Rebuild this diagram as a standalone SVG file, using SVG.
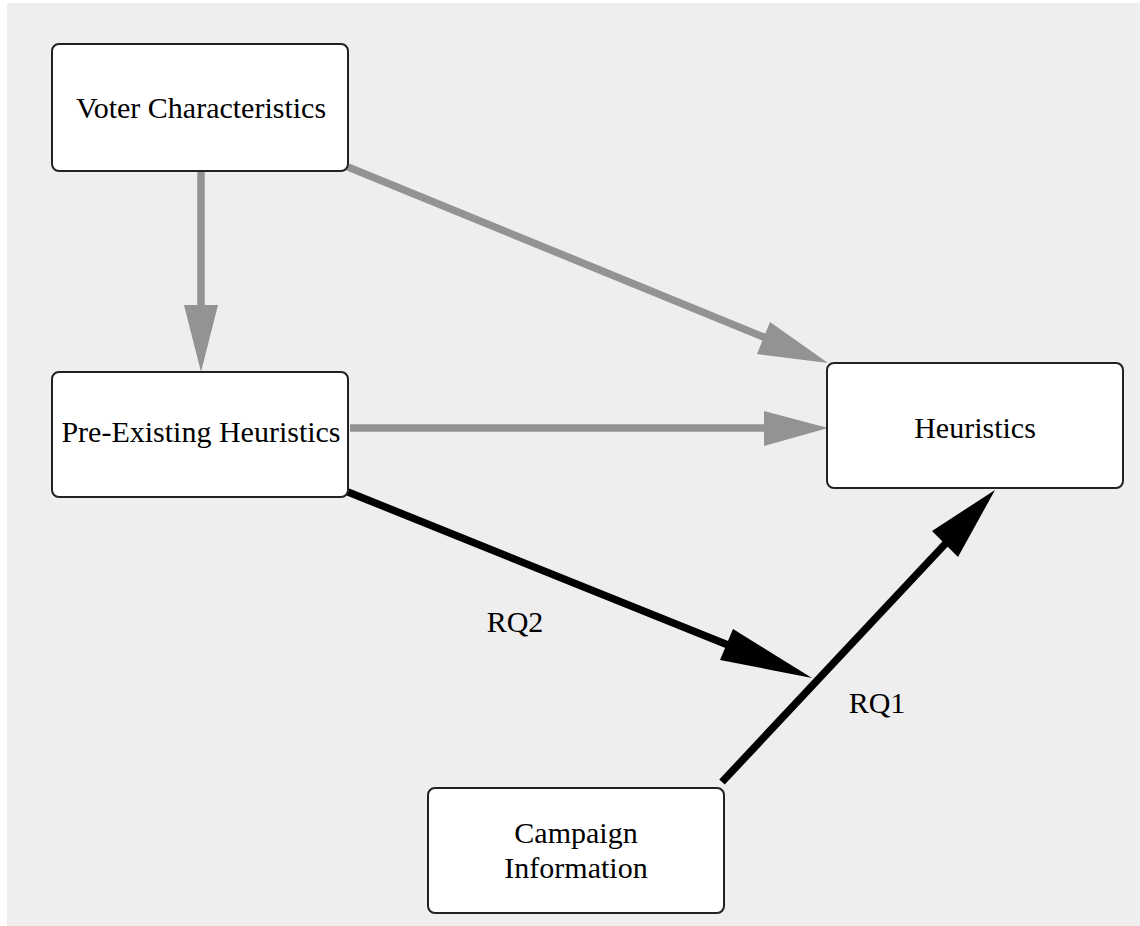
<svg xmlns="http://www.w3.org/2000/svg" width="1140" height="926" viewBox="0 0 1140 926">
<style>
.box{fill:#ffffff;stroke:#222222;stroke-width:2}
.lbl{font-family:"Liberation Serif","Times New Roman",serif;font-size:30px;fill:#000;text-anchor:middle}
.g{stroke:#939393;stroke-width:7.5;fill:none}
.gh{fill:#939393}
.b{stroke:#000;stroke-width:7.5;fill:none}
.bh{fill:#000}
</style>
<rect x="7" y="3" width="1133" height="923" fill="#eeeeee"/>
<g id="connectors">
<g id="e-vc-peh">
<line class="g" x1="201" y1="172" x2="201" y2="308"/>
<polygon class="gh" points="184,305 218,305 201,372"/>
</g>
<g id="e-vc-h">
<line class="g" x1="348" y1="167" x2="766" y2="338"/>
<polygon class="gh" points="770,322 757,354 828,363"/>
</g>
<g id="e-peh-h">
<line class="g" x1="350" y1="428" x2="766" y2="428"/>
<polygon class="gh" points="764,411 764,446 828,428"/>
</g>
<g id="e-peh-rq1">
<line class="b" x1="348" y1="492" x2="728" y2="645"/>
<polygon class="bh" points="733,629 720,660 812,678"/>
<text class="lbl" x="515" y="632">RQ2</text>
</g>
<g id="e-ci-h">
<line class="b" x1="722" y1="782" x2="947" y2="542"/>
<polygon class="bh" points="932,531 958,557 995,490"/>
<text class="lbl" x="877" y="713">RQ1</text>
</g>
</g>
<g id="n-voter">
<rect class="box" x="52" y="44" width="296" height="127" rx="7"/>
<text class="lbl" x="201" y="118">Voter Characteristics</text>
</g>
<g id="n-pre">
<rect class="box" x="52" y="372" width="296" height="125" rx="7"/>
<text class="lbl" x="201" y="442">Pre-Existing Heuristics</text>
</g>
<g id="n-heur">
<rect class="box" x="827" y="363" width="296" height="125" rx="7"/>
<text class="lbl" x="975" y="438">Heuristics</text>
</g>
<g id="n-campaign">
<rect class="box" x="428" y="788" width="296" height="125" rx="7"/>
<text class="lbl" x="576" y="843">Campaign</text>
<text class="lbl" x="576" y="878">Information</text>
</g>
</svg>
